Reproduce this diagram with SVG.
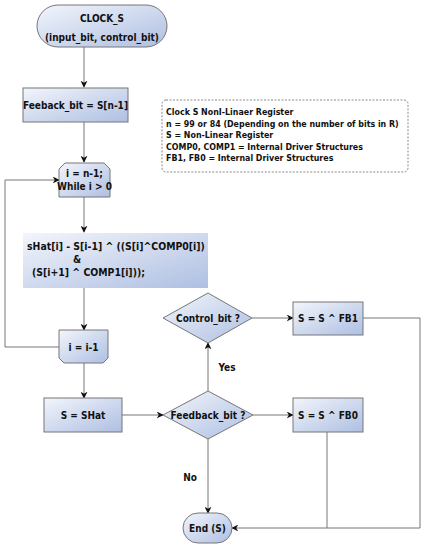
<svg xmlns="http://www.w3.org/2000/svg" width="425" height="550" viewBox="0 0 425 550">
<defs>
<linearGradient id="g" x1="0" y1="0" x2="1" y2="1">
<stop offset="0" stop-color="#f2f5fb"/>
<stop offset="1" stop-color="#aebfe2"/>
</linearGradient>
<marker id="a" viewBox="0 0 10 10" refX="9" refY="5" markerWidth="7" markerHeight="7" markerUnits="userSpaceOnUse" orient="auto">
<path d="M0,0 L10,5 L0,10 L3,5 Z" fill="#111"/>
</marker>
<style>
.n{fill:url(#g);stroke:#777;stroke-width:1}
.t{font-family:"DejaVu Sans Condensed","DejaVu Sans",sans-serif;font-weight:bold;font-size:10px;fill:#111;text-anchor:middle;dominant-baseline:central}
.l{font-family:"DejaVu Sans Condensed","DejaVu Sans",sans-serif;font-weight:bold;font-size:8.8px;fill:#111;dominant-baseline:central}
.b{font-family:"DejaVu Sans Condensed","DejaVu Sans",sans-serif;font-weight:bold;font-size:10.4px;fill:#111;dominant-baseline:central}
.c{fill:none;stroke:#777;stroke-width:1}
</style>
</defs>
<rect width="425" height="550" fill="#fff"/>
<g id="connectors">
<path class="c" d="M84,47 V87" marker-end="url(#a)"/>
<path class="c" d="M84,122 V162" marker-end="url(#a)"/>
<path class="c" d="M84,197 V232" marker-end="url(#a)"/>
<path class="c" d="M84,288 V330" marker-end="url(#a)"/>
<path class="c" d="M59,347 H5 V180 H59" marker-end="url(#a)"/>
<path class="c" d="M84,363 V398" marker-end="url(#a)"/>
<path class="c" d="M122,415 H163" marker-end="url(#a)"/>
<path class="c" d="M208,391 V343" marker-end="url(#a)"/>
<path class="c" d="M252,318 H293" marker-end="url(#a)"/>
<path class="c" d="M253,415 H293" marker-end="url(#a)"/>
<path class="c" d="M208,439 V513" marker-end="url(#a)"/>
<path class="c" d="M363,318 H420 V528 H232" marker-end="url(#a)"/>
<path class="c" d="M327,432 V528"/>
<text class="t" x="227" y="367">Yes</text>
<text class="t" x="190" y="477">No</text>
</g>
<g id="clock_s">
<rect class="n" x="37" y="5" width="130" height="42" rx="21"/>
<text class="t" x="102" y="18">CLOCK_S</text>
<text class="t" x="102" y="37">(input_bit, control_bit)</text>
</g>
<g id="feeback">
<rect class="n" x="23" y="88" width="105" height="34"/>
<text class="t" x="75.5" y="105">Feeback_bit = S[n-1]</text>
</g>
<g id="note">
<rect x="162" y="100" width="246" height="72" rx="4" fill="#fff" stroke="#888" stroke-dasharray="2,1.5"/>
<text class="l" x="166" y="112">Clock S NonI-Linaer Register</text>
<text class="l" x="166" y="123.5">n = 99 or 84 (Depending on the number of bits in R)</text>
<text class="l" x="166" y="135">S = Non-Linear Register</text>
<text class="l" x="166" y="146.5">COMP0, COMP1 = Internal Driver Structures</text>
<text class="l" x="166" y="158">FB1, FB0 = Internal Driver Structures</text>
</g>
<g id="loop_start">
<path class="n" d="M65,163 H104 L110,169 V197 H59 V169 Z"/>
<text class="t" x="84.5" y="173">i = n-1;</text>
<text class="t" x="84.5" y="186">While i &gt; 0</text>
</g>
<g id="shat_calc">
<rect x="23" y="233" width="185" height="55" fill="url(#g)"/>
<text class="b" x="27" y="245.5">sHat[i] - S[i-1] ^ ((S[i]^COMP0[i])</text>
<text class="b" x="77" y="258.5" text-anchor="middle">&amp;</text>
<text class="b" x="32" y="271.5">(S[i+1] ^ COMP1[i]));</text>
</g>
<g id="loop_end">
<path class="n" d="M59,330 H108 V358 L103,363 H64 L59,358 Z"/>
<text class="t" x="83.5" y="347">i = i-1</text>
</g>
<g id="s_shat">
<rect class="n" x="44" y="398" width="78" height="34"/>
<text class="t" x="83" y="415">S = SHat</text>
</g>
<g id="control_bit">
<path class="n" d="M208,293 L252,318 L208,343 L163,318 Z"/>
<text class="t" x="208" y="318">Control_bit ?</text>
</g>
<g id="feedback_bit">
<path class="n" d="M208,391 L253,415 L208,439 L163,415 Z"/>
<text class="t" x="208" y="415">Feedback_bit ?</text>
</g>
<g id="fb1">
<rect class="n" x="293" y="302" width="70" height="33"/>
<text class="t" x="328" y="318.5">S = S ^ FB1</text>
</g>
<g id="fb0">
<rect class="n" x="293" y="398" width="70" height="34"/>
<text class="t" x="328" y="415">S = S ^ FB0</text>
</g>
<g id="end">
<rect class="n" x="183" y="513" width="49" height="30" rx="15"/>
<text class="t" x="207.5" y="528">End (S)</text>
</g>
</svg>
